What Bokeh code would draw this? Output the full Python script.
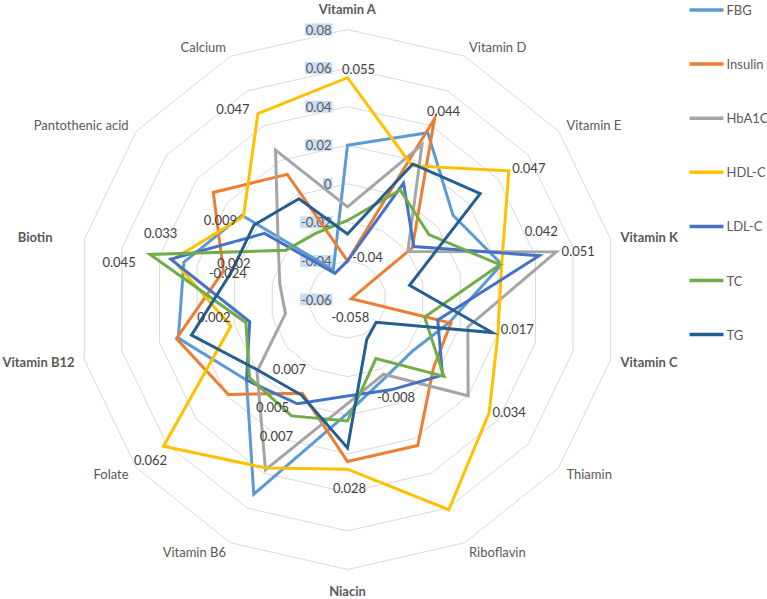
import numpy as np
from bokeh.plotting import figure
from bokeh.models import Range1d
from bokeh.core.properties import value
from bokeh.embed import file_html
from bokeh.resources import INLINE

# ---------------- data ----------------
categories = ["Vitamin A", "Vitamin D", "Vitamin E", "Vitamin K", "Vitamin C", "Thiamin",
              "Riboflavin", "Niacin", "Vitamin B6", "Folate", "Vitamin B12", "Biotin",
              "Pantothenic acid", "Calcium"]
bold_categories = ["Vitamin A", "Vitamin K", "Vitamin C", "Niacin", "Vitamin B12", "Biotin"]

series_names = ["FBG", "Insulin", "HbA1C", "HDL-C", "LDL-C", "TC", "TG"]
series_colors = ["#5B9BD5", "#ED7D31", "#A5A5A5", "#FFC000", "#4472C4", "#70AD47", "#255E91"]

fbg     = [0.020, 0.036, 0.010, 0.022, -0.006, -0.017, -0.015, -0.001, 0.052, 0.007, 0.030, 0.027, 0.010, -0.043]
insulin = [-0.040, 0.044, -0.017, -0.058, -0.005, -0.003, 0.024, 0.024, -0.006, 0.019, 0.031, 0.006, 0.029, 0.012]
hba1c   = [-0.012, 0.029, -0.020, 0.051, 0.004, 0.020, -0.017, -0.006, 0.038, 0.000, -0.027, -0.024, -0.014, 0.026]
hdl_c   = [0.055, 0.017, 0.047, 0.022, 0.020, 0.034, 0.061, 0.028, 0.037, 0.062, 0.002, 0.033, 0.009, 0.047]
ldl_c   = [-0.040, 0.007, -0.016, 0.042, -0.012, 0.003, -0.008, -0.010, 0.000, 0.007, -0.008, 0.034, -0.005, -0.045]
tc      = [-0.019, 0.003, -0.006, 0.021, -0.019, 0.004, -0.026, 0.003, 0.007, 0.005, -0.006, 0.045, -0.019, -0.022]
tg      = [-0.026, 0.018, 0.028, -0.027, 0.017, -0.041, -0.037, 0.017, -0.005, -0.001, 0.023, 0.002, 0.002, -0.002]
series_values = [fbg, insulin, hba1c, hdl_c, ldl_c, tc, tg]

tick_values = [-0.06, -0.04, -0.02, 0.0, 0.02, 0.04, 0.06, 0.08]
tick_labels = ["-0.06", "-0.04", "-0.02", "0", "0.02", "0.04", "0.06", "0.08"]

# data labels: (series index, category index, label offset x px, offset y px)
label_points = [
    (3, 0, 11, -9), (1, 1, 9, -8), (3, 2, 20, -3), (4, 3, 2, -25), (2, 3, 22, -1),
    (6, 4, 25, -4), (3, 5, 20, -1), (4, 6, 5, 7), (3, 7, 2, 19), (4, 9, 43, -11),
    (5, 9, 23, 29), (5, 8, -15, 20), (3, 9, -13, 14), (3, 10, -17, -9), (6, 11, 3, -10),
    (2, 11, -52, -11), (5, 11, -31, 8), (3, 11, -12, -27), (3, 12, -23, 3), (3, 13, -25, -5),
    (1, 0, 20, -4), (1, 3, -1, 18),
]

# ---------------- geometry ----------------
r_min, r_max = tick_values[0], tick_values[-1]
W, H = 767, 599
R_PX = 270.0
k = R_PX / (r_max - r_min)          # px per value unit
CX, CY = 347.0, 299.0               # centre inside the figure (px from top-left)

n = len(categories)
theta = np.pi / 2 - np.arange(n) * 2 * np.pi / n
cos_t, sin_t = np.cos(theta), np.sin(theta)


def page_x(xp):   # figure pixel -> data
    return (xp - CX) / k


def page_y(yp):
    return (CY - yp) / k


p = figure(width=W, height=H, output_backend="svg", toolbar_location=None,
           x_range=Range1d(-CX / k, (W - CX) / k), y_range=Range1d(-(H - CY) / k, CY / k),
           x_axis_location=None, y_axis_location=None, min_border=0)
p.grid.visible = False
p.outline_line_color = None
p.background_fill_color = "white"

FONT = value("Lato")

# grid rings
ring_xs, ring_ys = [], []
for tv in tick_values[1:]:
    rr = tv - r_min
    ring_xs.append(list(rr * np.append(cos_t, cos_t[0])))
    ring_ys.append(list(rr * np.append(sin_t, sin_t[0])))
p.multi_line(ring_xs, ring_ys, line_color="#D9D9D9", line_width=1)

# radial tick labels along first spoke
p.text(x=[0.0] * len(tick_values), y=[tv - r_min for tv in tick_values], text=tick_labels,
       text_align="right", text_baseline="middle", x_offset=-15,
       text_font=FONT, text_font_size="13px", text_color="#595959",
       background_fill_color="#C9DEF2", padding=1)

# series
for vals, col in zip(series_values, series_colors):
    rr = np.array(vals) - r_min
    p.patch(list(rr * cos_t), list(rr * sin_t), fill_color=None, line_color=col,
            line_width=3, line_join="miter")

# data labels
def fmt(v):
    s = f"{v:.3f}".rstrip("0").rstrip(".")
    return "0" if s in ("", "-0") else s

for si, ci, dx, dy in label_points:
    v = series_values[si][ci]
    rr = v - r_min
    p.text(x=[rr * cos_t[ci]], y=[rr * sin_t[ci]], text=[fmt(v)], x_offset=dx, y_offset=dy,
           text_align="center", text_baseline="middle", text_font=FONT,
           text_font_size="13px", text_color="#404040")

# category labels
R_LAB = 280.0 / k
cat_extra = {"Vitamin A": (0, -11), "Niacin": (0, 11), "Biotin": (-22, 0)}
for i, name in enumerate(categories):
    if cos_t[i] > 0.1:
        align = "left"
    elif cos_t[i] < -0.1:
        align = "right"
    else:
        align = "center"
    dx, dy = cat_extra.get(name, (0, 0))
    p.text(x=[R_LAB * cos_t[i]], y=[R_LAB * sin_t[i]], text=[name], x_offset=dx, y_offset=dy,
           text_align=align, text_baseline="middle", text_font=FONT, text_font_size="13px",
           text_color="#595959",
           text_font_style="bold" if name in bold_categories else "normal")

# legend (manual)
for i, (name, col) in enumerate(zip(series_names, series_colors)):
    yy = page_y(9.5 + i * 54.1)
    p.segment(x0=[page_x(689)], y0=[yy], x1=[page_x(723)], y1=[yy], line_color=col, line_width=3.5)
    p.text(x=[page_x(726)], y=[yy], text=[name], text_align="left", text_baseline="middle",
           text_font=FONT, text_font_size="13px", text_color="#595959")

open("out.html", "w").write(file_html(p, INLINE))
